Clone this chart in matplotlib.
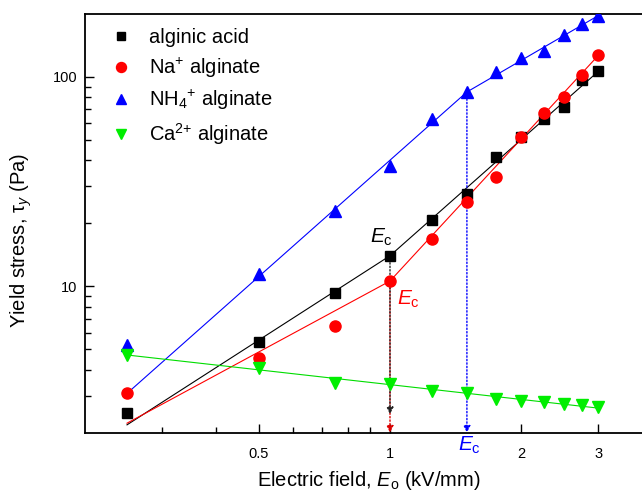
import matplotlib
matplotlib.use('Agg')
import matplotlib.pyplot as plt
from matplotlib.ticker import FixedLocator, FixedFormatter, NullFormatter

plt.rcParams['font.family'] = ['Liberation Sans', 'DejaVu Sans']
plt.rcParams['mathtext.fontset'] = 'custom'
plt.rcParams['mathtext.rm'] = 'Liberation Sans'
plt.rcParams['mathtext.it'] = 'Liberation Sans:italic'
plt.rcParams['mathtext.bf'] = 'Liberation Sans:bold'

# electric field (kV/mm) and yield stress (Pa)
field = [0.25, 0.5, 0.75, 1.0, 1.25, 1.5, 1.75, 2.0, 2.25, 2.5, 2.75, 3.0]
acid = [2.48, 5.41, 9.31, 14.0, 20.8, 27.5, 41.6, 51.8, 62.7, 72.0, 96.4, 106.5]
na = [3.08, 4.56, 6.5, 10.6, 16.9, 25.4, 33.4, 51.5, 67.4, 80.3, 101.9, 126.9]
nh4 = [5.27, 11.5, 23.0, 37.6, 62.9, 84.8, 105.6, 123.7, 133.0, 158.0, 179.6, 196.6]
ca = [4.68, 4.09, 3.47, 3.40, 3.16, 3.08, 2.89, 2.82, 2.79, 2.73, 2.71, 2.64]

# power-law fit lines (start, critical field, end) as drawn in the figure
fit_acid_x = [0.25, 1.0, 3.0]
fit_acid_y = [2.18, 14.0, 106.5]
fit_na_x = [0.25, 1.0, 3.0]
fit_na_y = [2.22, 10.6, 126.9]
fit_nh4_x = [0.25, 1.5, 3.0]
fit_nh4_y = [3.08, 84.8, 196.6]
fit_ca_x = [0.25, 3.0]
fit_ca_y = [4.70, 2.62]

# critical fields
ec_acid = 1.0
ec_na = 1.0
ec_nh4 = 1.5

labels = ['alginic acid', 'Na$^{+}$ alginate', 'NH$_4$$^{+}$ alginate', 'Ca$^{2{+}}$ alginate']

x_ticks = [0.5, 1, 2, 3]
x_ticklabels = ['0.5', '1', '2', '3']
x_minor = [0.3, 0.4, 0.6, 0.7, 0.8, 0.9]
y_ticks = [10, 100]
y_ticklabels = ['10', '100']
y_minor = [3, 4, 5, 6, 7, 8, 9, 20, 30, 40, 50, 60, 70, 80, 90]

fig = plt.figure(figsize=(6.42, 4.95), dpi=100)
ax = fig.add_axes([0.1319, 0.1259, 0.8852, 0.8459])
ax.set_xscale('log')
ax.set_yscale('log')
ax.set_xlim(0.2, 4)
ax.set_ylim(2, 200)

lw = 0.8
ax.plot(fit_acid_x, fit_acid_y, color='black', lw=lw, zorder=2)
ax.plot(fit_na_x, fit_na_y, color='red', lw=lw, zorder=2)
ax.plot(fit_nh4_x, fit_nh4_y, color='blue', lw=lw, zorder=2)
ax.plot(fit_ca_x, fit_ca_y, color='#00dd00', lw=lw, zorder=2)


# Ec markers: dotted drop lines with arrow heads
def drop(xe, ytop, ybot, color):
    ax.annotate('', xy=(xe, ybot), xytext=(xe, ytop),
                arrowprops=dict(arrowstyle='-|>', linestyle=(0, (1, 1.5)), lw=1,
                                color=color, mutation_scale=10, shrinkA=0, shrinkB=0),
                zorder=2.5)


drop(ec_na, na[field.index(ec_na)], 2.0, '#dd0000')
drop(ec_acid, acid[field.index(ec_acid)], 2.45, '#222222')
drop(ec_nh4, nh4[field.index(ec_nh4)], 2.0, 'blue')

ax.plot(field, acid, ls='none', marker='s', ms=7, color='black', label=labels[0], zorder=3)
ax.plot(field, na, ls='none', marker='o', ms=8, color='red', label=labels[1], zorder=3)
ax.plot(field, nh4, ls='none', marker='^', ms=8.5, color='blue', label=labels[2], zorder=3)
ax.plot(field, ca, ls='none', marker='v', ms=8.5, color='#00ee00', label=labels[3], zorder=3)

ax.text(0.9, 16.1, '$E_\\mathrm{c}$', color='black', fontsize=15, ha='left', va='baseline')
ax.text(1.037, 8.18, '$E_\\mathrm{c}$', color='red', fontsize=15, ha='left', va='baseline')
ax.text(1.43, 1.633, '$E_\\mathrm{c}$', color='blue', fontsize=15, ha='left', va='baseline')

ax.xaxis.set_major_locator(FixedLocator(x_ticks))
ax.xaxis.set_major_formatter(FixedFormatter(x_ticklabels))
ax.xaxis.set_minor_locator(FixedLocator(x_minor))
ax.xaxis.set_minor_formatter(NullFormatter())
ax.yaxis.set_major_locator(FixedLocator(y_ticks))
ax.yaxis.set_major_formatter(FixedFormatter(y_ticklabels))
ax.yaxis.set_minor_locator(FixedLocator(y_minor))
ax.yaxis.set_minor_formatter(NullFormatter())

ax.tick_params(which='both', direction='in', top=False, right=False, width=1)
ax.tick_params(which='major', length=6.5, labelsize=10.5)
ax.tick_params(axis='x', which='major', pad=10)
ax.tick_params(axis='y', which='major', pad=5)
ax.tick_params(which='minor', length=4)
for s in ax.spines.values():
    s.set_linewidth(1.3)

ax.set_xlabel('Electric field, $E_\\mathrm{o}$ (kV/mm)', fontsize=14.5, labelpad=6)
ax.set_ylabel('Yield stress, $\\mathrm{\\tau}_y$ (Pa)', fontsize=14.5)
ax.yaxis.set_label_coords(-0.09, 0.46)

ax.legend(loc='upper left', bbox_to_anchor=(0.032, 0.985), frameon=False, fontsize=14.5,
          handlelength=1.0, handletextpad=0.9, labelspacing=0.42, borderaxespad=0,
          numpoints=1, markerscale=0.9)

fig.savefig('out.png', dpi=100)
